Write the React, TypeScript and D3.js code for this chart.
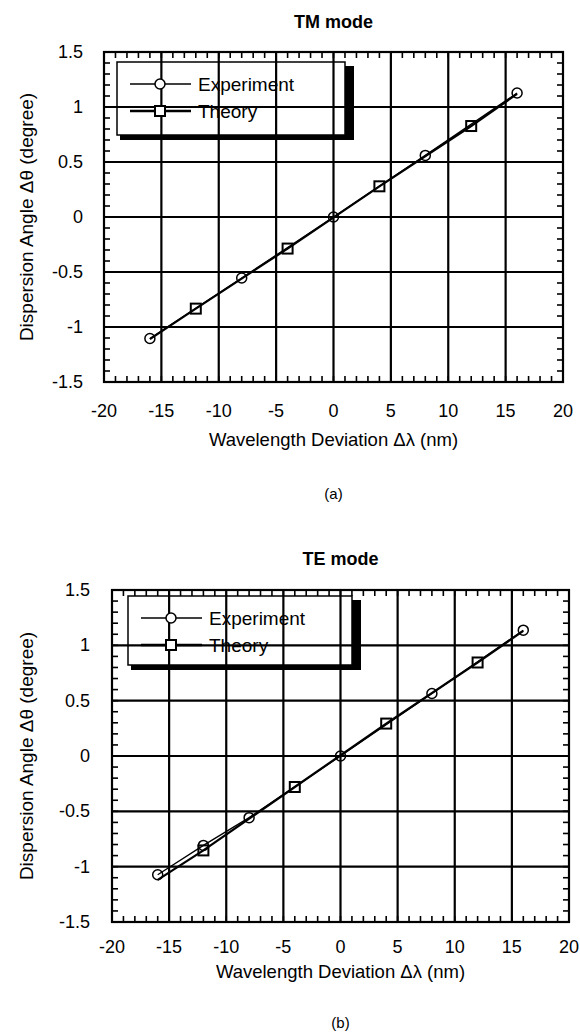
import React from "react";
import * as d3 from "d3";

// TM mode (a)
const tmExpX = [-16, -8, 0, 8, 16];
const tmExpY = [-1.105, -0.555, 0, 0.56, 1.127];
const tmTheoryX = [-16, -12, -4, 4, 12, 16];
const tmTheoryY = [-1.11, -0.833, -0.287, 0.279, 0.827, 1.12];

// TE mode (b)
const teExpX = [-16, -12, -8, 0, 8, 16];
const teExpY = [-1.073, -0.808, -0.557, 0, 0.565, 1.137];
const teTheoryX = [-16, -12, -4, 4, 12, 16];
const teTheoryY = [-1.12, -0.853, -0.28, 0.293, 0.845, 1.13];

// which theory points carry a square marker
const theoryMarkerX = [-12, -4, 4, 12];

const xTicks = [-20, -15, -10, -5, 0, 5, 10, 15, 20];
const yTicks = [-1.5, -1, -0.5, 0, 0.5, 1, 1.5];

const FONT = "'Liberation Sans', Arial, Helvetica, sans-serif";

type PanelProps = {
  title: string;
  caption: string;
  top: number;
  left: number;
  right: number;
  bottom: number;
  expX: number[];
  expY: number[];
  thX: number[];
  thY: number[];
  legend: { x: number; y: number; w: number; h: number };
  yLabelRight: number;
  xLabelY: number;
  xTitleY: number;
  captionY: number;
  titleY: number;
};

const Panel = (p: PanelProps) => {
  const x = d3.scaleLinear().domain([-20, 20]).range([p.left, p.right]);
  const y = d3.scaleLinear().domain([-1.5, 1.5]).range([p.bottom, p.top]);
  const line = d3
    .line<[number, number]>()
    .x((d) => x(d[0]))
    .y((d) => y(d[1]));

  const exp = p.expX.map((v, i) => [v, p.expY[i]] as [number, number]);
  const th = p.thX.map((v, i) => [v, p.thY[i]] as [number, number]);
  const thMarks = th.filter((d) => theoryMarkerX.includes(d[0]));

  const minorX = d3.range(-20, 20.01, 1);
  const minorY = d3.range(-15, 15.01, 1).map((v) => v / 10);
  const cx = (p.left + p.right) / 2;
  const cy = (p.top + p.bottom) / 2;
  const L = p.legend;

  return (
    <g>
      <text x={cx} y={p.titleY} textAnchor="middle" fontSize={18} fontWeight="bold" fontFamily={FONT}>
        {p.title}
      </text>

      {/* grid */}
      {xTicks.slice(1, -1).map((t) => (
        <line key={"gx" + t} x1={x(t)} x2={x(t)} y1={p.top} y2={p.bottom} stroke="#000" strokeWidth={2.2} />
      ))}
      {yTicks.slice(1, -1).map((t) => (
        <line key={"gy" + t} x1={p.left} x2={p.right} y1={y(t)} y2={y(t)} stroke="#000" strokeWidth={2.2} />
      ))}

      {/* minor ticks inside frame */}
      {minorX.map((t) => (
        <g key={"mx" + t}>
          <line x1={x(t)} x2={x(t)} y1={p.top} y2={p.top + 6} stroke="#000" strokeWidth={1.6} />
          <line x1={x(t)} x2={x(t)} y1={p.bottom} y2={p.bottom - 6} stroke="#000" strokeWidth={1.6} />
        </g>
      ))}
      {minorY.map((t) => (
        <g key={"my" + t}>
          <line x1={p.left} x2={p.left + 6} y1={y(t)} y2={y(t)} stroke="#000" strokeWidth={1.6} />
          <line x1={p.right} x2={p.right - 6} y1={y(t)} y2={y(t)} stroke="#000" strokeWidth={1.6} />
        </g>
      ))}

      <rect x={p.left} y={p.top} width={p.right - p.left} height={p.bottom - p.top} fill="none" stroke="#000" strokeWidth={2.2} />

      {/* tick labels */}
      {xTicks.map((t) => (
        <text key={"xl" + t} x={x(t)} y={p.xLabelY} textAnchor="middle" fontSize={18} fontFamily={FONT}>
          {t}
        </text>
      ))}
      {yTicks.map((t) => (
        <text key={"yl" + t} x={p.yLabelRight} y={y(t) + 6} textAnchor="end" fontSize={18} fontFamily={FONT}>
          {t}
        </text>
      ))}

      <text x={cx} y={p.xTitleY} textAnchor="middle" fontSize={18.5} fontFamily={FONT}>
        Wavelength Deviation Δλ (nm)
      </text>
      <text
        transform={`translate(33, ${cy}) rotate(-90)`}
        textAnchor="middle"
        fontSize={19}
        fontFamily={FONT}
      >
        Dispersion Angle Δθ (degree)
      </text>
      <text x={cx} y={p.captionY} textAnchor="middle" fontSize={15} fontFamily={FONT}>
        {p.caption}
      </text>

      {/* series */}
      <path d={line(th) || ""} fill="none" stroke="#000" strokeWidth={2.2} />
      <path d={line(exp) || ""} fill="none" stroke="#000" strokeWidth={1.3} />
      {thMarks.map((d, i) => (
        <rect key={"sq" + i} x={x(d[0]) - 5} y={y(d[1]) - 5} width={10} height={10} fill="none" stroke="#000" strokeWidth={2} />
      ))}
      {exp.map((d, i) => (
        <circle key={"c" + i} cx={x(d[0])} cy={y(d[1])} r={5} fill="none" stroke="#000" strokeWidth={1.5} />
      ))}

      {/* legend */}
      <rect x={L.x + L.w} y={L.y + 4} width={9} height={L.h + 1} fill="#000" />
      <rect x={L.x + 3} y={L.y + L.h} width={L.w + 6} height={5} fill="#000" />
      <rect x={L.x} y={L.y} width={L.w} height={L.h} fill="none" stroke="#000" strokeWidth={1.5} />
      <line x1={L.x + 13} x2={L.x + 74} y1={L.y + 22} y2={L.y + 22} stroke="#000" strokeWidth={1.3} />
      <circle cx={L.x + 43} cy={L.y + 22} r={5} fill="#fff" stroke="#000" strokeWidth={1.5} />
      <text x={L.x + 81} y={L.y + 29} fontSize={19} fontFamily={FONT}>
        Experiment
      </text>
      <line x1={L.x + 13} x2={L.x + 74} y1={L.y + 49} y2={L.y + 49} stroke="#000" strokeWidth={2.5} />
      <rect x={L.x + 38} y={L.y + 44} width={10} height={10} fill="#fff" stroke="#000" strokeWidth={2} />
      <text x={L.x + 81} y={L.y + 56} fontSize={19} fontFamily={FONT}>
        Theory
      </text>
    </g>
  );
};

const App = () => {
  return (
    <svg
      width={580}
      height={1036}
      style={{ position: "absolute", left: 0, top: 0, background: "#fff" }}
    >
      <rect width={580} height={1036} fill="#fff" />
      <Panel
        title="TM mode"
        caption="(a)"
        top={52}
        bottom={382}
        left={104}
        right={563}
        expX={tmExpX}
        expY={tmExpY}
        thX={tmTheoryX}
        thY={tmTheoryY}
        legend={{ x: 117, y: 62, w: 228, h: 73 }}
        yLabelRight={83}
        xLabelY={417}
        xTitleY={446}
        captionY={499}
        titleY={28}
      />
      <Panel
        title="TE mode"
        caption="(b)"
        top={590}
        bottom={922}
        left={112}
        right={569}
        expX={teExpX}
        expY={teExpY}
        thX={teTheoryX}
        thY={teTheoryY}
        legend={{ x: 128, y: 596, w: 224, h: 69 }}
        yLabelRight={90}
        xLabelY={953}
        xTitleY={978}
        captionY={1028}
        titleY={565}
      />
    </svg>
  );
};

export default App;
